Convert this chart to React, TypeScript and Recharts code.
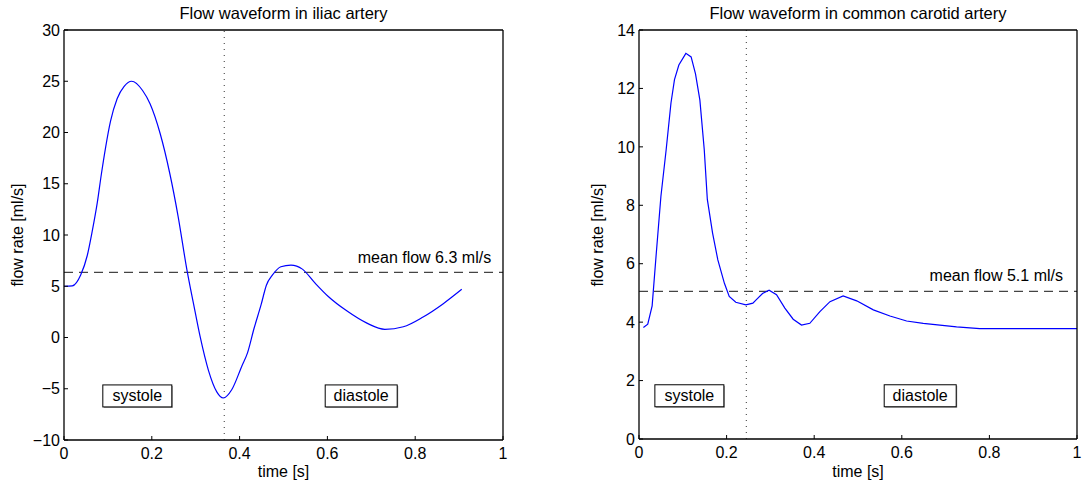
import React from "react";
import { LineChart, Line, XAxis, YAxis, ReferenceLine, ReferenceDot } from "recharts";

// iliac artery waveform
const iliacTime = [
  0, 0.019, 0.038, 0.053, 0.064, 0.076, 0.085, 0.095, 0.106, 0.121, 0.137, 0.154, 0.179, 0.196,
  0.219, 0.241, 0.26, 0.28, 0.295, 0.31, 0.329, 0.348, 0.363, 0.382, 0.405, 0.418, 0.433, 0.449,
  0.461, 0.475, 0.494, 0.517, 0.543, 0.572, 0.602, 0.644, 0.69, 0.731, 0.773, 0.818, 0.864, 0.906,
];
const iliacFlow = [
  5.0, 5.04, 6.1, 8.0, 10.3, 13.2, 15.9, 18.6, 21.1, 23.3, 24.5, 25.0, 24.1, 22.8,
  19.9, 16.0, 11.8, 6.6, 3.3, 0.1, -3.2, -5.3, -5.9, -5.1, -2.8, -1.5, 0.9, 3.2,
  5.1, 6.1, 6.9, 7.06, 6.67, 5.3, 4.0, 2.6, 1.4, 0.8, 1.05, 2.0, 3.3, 4.7,
];

// common carotid artery waveform
const carotidTime = [
  0.01, 0.02, 0.03, 0.039, 0.05, 0.062, 0.073, 0.081, 0.091, 0.107, 0.119, 0.129, 0.139, 0.149,
  0.156, 0.168, 0.18, 0.195, 0.206, 0.221, 0.244, 0.26, 0.268, 0.282, 0.297, 0.314, 0.333, 0.352,
  0.371, 0.39, 0.413, 0.436, 0.466, 0.497, 0.535, 0.573, 0.611, 0.649, 0.687, 0.725, 0.778, 1.0,
];
const carotidFlow = [
  3.82, 3.93, 4.56, 6.27, 8.3, 9.9, 11.5, 12.3, 12.8, 13.2, 13.08, 12.5, 11.6, 9.9,
  8.2, 7.05, 6.13, 5.33, 4.88, 4.68, 4.59, 4.65, 4.77, 4.98, 5.09, 4.94, 4.48, 4.1,
  3.9, 3.96, 4.36, 4.7, 4.9, 4.73, 4.42, 4.21, 4.04, 3.96, 3.9, 3.84, 3.78, 3.78,
];

const timeTicks = [0, 0.2, 0.4, 0.6, 0.8, 1];
const iliacTicks = [-10, -5, 0, 5, 10, 15, 20, 25, 30];
const carotidTicks = [0, 2, 4, 6, 8, 10, 12, 14];

const titles = ["Flow waveform in iliac artery", "Flow waveform in common carotid artery"];
const meanFlow = [6.35, 5.05];
const meanLabels = ["mean flow 6.3 ml/s", "mean flow 5.1 ml/s"];
const meanLabelAt = [[0.973, 7.25], [0.968, 5.42]];
const phaseSplit = [0.365, 0.245];
const phaseNames = ["systole", "diastole"];
const phaseAt = [
  [[0.167, -5.7], [0.677, -5.7]],
  [[0.115, 1.48], [0.642, 1.48]],
];

const FONT = "'Liberation Sans', Arial, Helvetica, sans-serif";
const FS = 16;
const tickStyle = { fill: "#000", fontSize: FS, fontFamily: FONT };
const fmt = (v: number) => String(v).replace("-", "\u2212");

function PhaseBox(props: any) {
  const { cx, cy, label } = props;
  const w = label === "systole" ? 69 : 72;
  return (
    <g>
      <rect x={cx - w / 2 + 1} y={cy - 10} width={w} height={22} fill="#999" />
      <rect x={cx - w / 2} y={cy - 11} width={w} height={22} fill="#fff" stroke="#000" strokeWidth={1} />
      <text x={cx} y={cy + 5} textAnchor="middle" fontSize={FS} fontFamily={FONT} fill="#000">
        {label}
      </text>
    </g>
  );
}

function MeanText(props: any) {
  const { cx, cy, label } = props;
  return (
    <text x={cx} y={cy} textAnchor="end" fontSize={FS} fontFamily={FONT} fill="#000">
      {label}
    </text>
  );
}

interface PanelProps {
  idx: number;
  time: number[];
  flow: number[];
  yTicks: number[];
  width: number;
  margin: { top: number; right: number; bottom: number; left: number };
  curve: "monotone" | "linear";
}

function Panel({ idx, time, flow, yTicks, width, margin, curve }: PanelProps) {
  const data = time.map((t, i) => ({ t, v: flow[i] }));
  const yDomain = [yTicks[0], yTicks[yTicks.length - 1]];
  return (
    <LineChart width={width} height={487} data={data} margin={margin}>
      <XAxis
        xAxisId="b"
        dataKey="t"
        type="number"
        domain={[0, 1]}
        ticks={timeTicks}
        height={30}
        tickSize={-4}
        tickMargin={12}
        tick={tickStyle}
        tickFormatter={fmt}
        axisLine={{ stroke: "#000", strokeWidth: 1.3 }}
        tickLine={{ stroke: "#000" }}
      />
      <XAxis
        xAxisId="top"
        orientation="top"
        type="number"
        domain={[0, 1]}
        ticks={timeTicks}
        height={1}
        tickSize={-4}
        tick={false}
        axisLine={{ stroke: "#000", strokeWidth: 1.3 }}
        tickLine={{ stroke: "#000" }}
      />
      <YAxis
        yAxisId="l"
        type="number"
        domain={yDomain}
        ticks={yTicks}
        width={50}
        tickSize={-4}
        tickMargin={8}
        tick={tickStyle}
        tickFormatter={fmt}
        axisLine={{ stroke: "#000", strokeWidth: 1.3 }}
        tickLine={{ stroke: "#000" }}
      />
      <YAxis
        yAxisId="r"
        orientation="right"
        type="number"
        domain={yDomain}
        ticks={yTicks}
        width={1}
        tickSize={-4}
        tick={false}
        axisLine={{ stroke: "#000", strokeWidth: 1.3 }}
        tickLine={{ stroke: "#000" }}
      />
      <ReferenceLine
        xAxisId="b"
        yAxisId="l"
        x={phaseSplit[idx]}
        stroke="#333"
        strokeWidth={1}
        strokeDasharray="1 5"
      />
      <ReferenceLine
        xAxisId="b"
        yAxisId="l"
        y={meanFlow[idx]}
        stroke="#444"
        strokeWidth={1.3}
        strokeDasharray="9 6"
      />
      <Line
        xAxisId="b"
        yAxisId="l"
        type={curve}
        dataKey="v"
        stroke="#0000ff"
        strokeWidth={1.2}
        dot={false}
        isAnimationActive={false}
      />
      <ReferenceDot
        xAxisId="b"
        yAxisId="l"
        x={meanLabelAt[idx][0]}
        y={meanLabelAt[idx][1]}
        shape={(p: any) => <MeanText {...p} label={meanLabels[idx]} />}
      />
      {phaseNames.map((name, i) => (
        <ReferenceDot
          key={name}
          xAxisId="b"
          yAxisId="l"
          x={phaseAt[idx][i][0]}
          y={phaseAt[idx][i][1]}
          shape={(p: any) => <PhaseBox {...p} label={name} />}
        />
      ))}
    </LineChart>
  );
}

const textBase: React.CSSProperties = {
  position: "absolute",
  fontFamily: FONT,
  fontSize: FS,
  color: "#000",
  whiteSpace: "nowrap",
  lineHeight: "16px",
};

export default function App() {
  return (
    <div style={{ position: "absolute", left: 0, top: 0, width: 1087, height: 487, background: "#fff" }}>
      <div style={{ position: "absolute", left: 0, top: 0 }}>
        <Panel
          idx={0}
          time={iliacTime}
          flow={iliacFlow}
          yTicks={iliacTicks}
          width={560}
          margin={{ top: 29, right: 56, bottom: 17, left: 14 }}
          curve="monotone"
        />
      </div>
      <div style={{ position: "absolute", left: 560, top: 0 }}>
        <Panel
          idx={1}
          time={carotidTime}
          flow={carotidFlow}
          yTicks={carotidTicks}
          width={527}
          margin={{ top: 29, right: 9, bottom: 18, left: 29 }}
          curve="linear"
        />
      </div>
      {[283.5, 858].map((cx, i) => (
        <div key={"t" + i} style={{ ...textBase, fontSize: 16.5, left: cx, top: 5, transform: "translateX(-50%)" }}>
          {titles[i]}
        </div>
      ))}
      {[283.5, 858].map((cx, i) => (
        <div key={"x" + i} style={{ ...textBase, left: cx, top: 464, transform: "translateX(-50%)" }}>
          time [s]
        </div>
      ))}
      {[18, 598].map((cx, i) => (
        <div
          key={"y" + i}
          style={{ ...textBase, left: cx, top: 235, transform: "translate(-50%, -50%) rotate(-90deg)" }}
        >
          flow rate [ml/s]
        </div>
      ))}
    </div>
  );
}
